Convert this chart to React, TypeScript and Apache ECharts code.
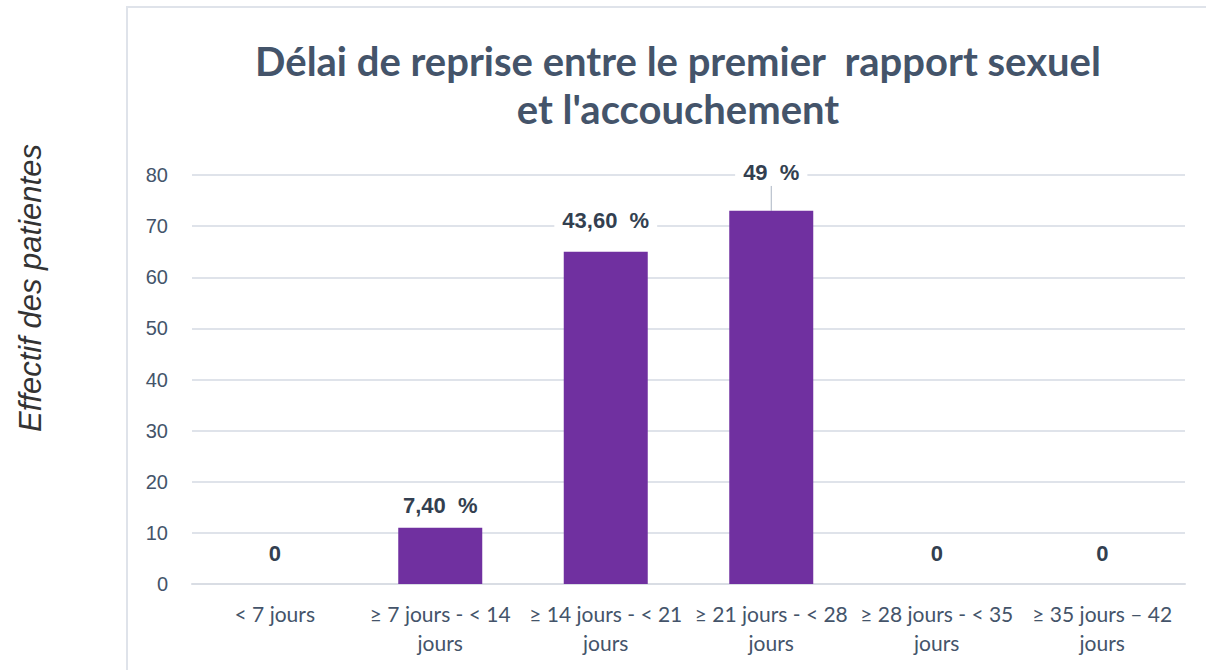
import React, { useEffect, useRef } from "react";
import * as echarts from "echarts";

const categories = [
  "< 7 jours",
  "≥ 7 jours - < 14\njours",
  "≥ 14 jours - < 21\njours",
  "≥ 21 jours - < 28\njours",
  "≥ 28 jours - < 35\njours",
  "≥ 35 jours – 42\njours",
];
const counts = [0, 11, 65, 73, 0, 0];
const percentLabels = ["0", "7,40  %", "43,60  %", "49  %", "0", "0"];
const yTicks = { min: 0, max: 80, interval: 10 };

const TEXT = "#44546a";

export default function App() {
  const ref = useRef<HTMLDivElement>(null);
  useEffect(() => {
    const chart = echarts.init(ref.current!, undefined, { renderer: "svg" });
    chart.setOption({
      animation: false,
      backgroundColor: "#ffffff",
      graphic: [
        {
          type: "rect",
          shape: { x: 127, y: 7, width: 1200, height: 800 },
          style: { fill: "none", stroke: "#dfe3ea", lineWidth: 2 },
          silent: true,
        },
        {
          type: "text",
          x: 30,
          y: 288,
          rotation: Math.PI / 2,
          style: {
            text: "Effectif des patientes",
            font: "italic 31px 'Liberation Sans', Arial, sans-serif",
            fill: "#333333",
            align: "center",
            verticalAlign: "middle",
          },
        },
      ],
      title: {
        text: "Délai de reprise entre le premier  rapport sexuel\net l'accouchement",
        left: 673,
        top: 32,
        textAlign: "center",
        textStyle: {
          fontFamily: "Lato, 'Open Sans', sans-serif",
          fontWeight: "bold",
          fontSize: 40,
          lineHeight: 48,
          color: TEXT,
        },
      },
      grid: { left: 192, right: 21, top: 175, bottom: 86, containLabel: false },
      xAxis: {
        type: "category",
        data: categories,
        axisLine: { lineStyle: { color: "#d9dde4", width: 2 } },
        axisTick: { show: false },
        axisLabel: {
          interval: 0,
          margin: 15,
          fontFamily: "Lato, 'Open Sans', sans-serif",
          fontSize: 21,
          lineHeight: 29,
          color: TEXT,
        },
      },
      yAxis: {
        type: "value",
        min: yTicks.min,
        max: yTicks.max,
        interval: yTicks.interval,
        axisLine: { show: false },
        axisTick: { show: false },
        splitLine: { lineStyle: { color: "#dfe3ea", width: 2 } },
        axisLabel: {
          margin: 24,
          fontFamily: "'Liberation Sans', Arial, sans-serif",
          fontSize: 20,
          color: TEXT,
        },
      },
      series: [
        {
          type: "bar",
          data: counts.map((v, i) => ({
            value: v,
            label: {
              distance: v === 0 ? 18 : i === 2 ? 18 : 9,
            },
            labelLine: { show: i === 3 },
          })),
          barWidth: 84,
          itemStyle: { color: "#7030a0" },
          label: {
            show: true,
            position: "top",
            formatter: (p: any) => percentLabels[p.dataIndex],
            fontFamily: "'Liberation Sans', Arial, sans-serif",
            fontWeight: "bold",
            fontSize: 22,
            color: "#333f50",
            backgroundColor: "#ffffff",
            padding: [2, 8],
          },
          labelLine: { show: false, lineStyle: { color: "#aab4c2", width: 1 } },
          labelLayout: (params: any) =>
            params.dataIndex === 3 ? { dy: -16 } : {},
        },
      ],
    });
    return () => chart.dispose();
  }, []);
  return (
    <div
      ref={ref}
      style={{ position: "absolute", left: 0, top: 0, width: 1206, height: 670 }}
    />
  );
}
